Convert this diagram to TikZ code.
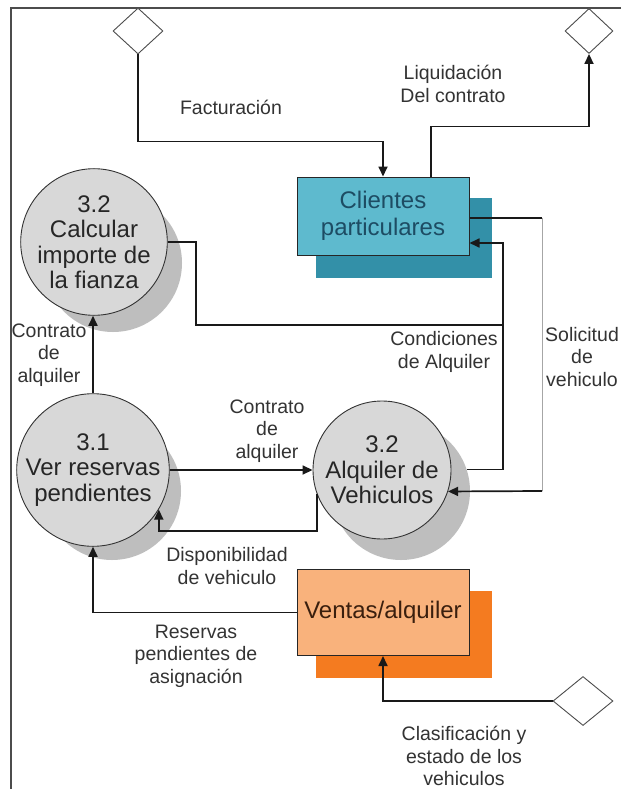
\documentclass[tikz,border=0pt]{standalone}
\usepackage{fontspec}
\setmainfont{Liberation Sans}
\usetikzlibrary{shapes.geometric,arrows.meta,calc}
\definecolor{circfill}{HTML}{D8D8D8}
\definecolor{circshadow}{HTML}{BEBEBE}
\definecolor{clfill}{HTML}{5EBACE}
\definecolor{clshadow}{HTML}{3390A8}
\definecolor{cltext}{HTML}{1D4C63}
\definecolor{vtfill}{HTML}{F9B27C}
\definecolor{vtshadow}{HTML}{F47B20}
\definecolor{vttext}{HTML}{3A1F0E}
\definecolor{lbltext}{HTML}{333333}
\begin{document}
\begin{tikzpicture}[x=1pt,y=-1pt,
  proc/.style={circle,draw=black!80,line width=0.9pt,fill=circfill,minimum size=138pt,inner sep=0pt,align=center,text=black!85,font=\fontsize{24}{25.5}\selectfont},
  procshadow/.style={circle,fill=circshadow,minimum size=138pt,inner sep=0pt},
  store/.style={rectangle,draw=black!85,line width=1pt,minimum width=172pt,align=center,inner sep=0pt,font=\fontsize{24}{27}\selectfont},
  storeshadow/.style={rectangle,minimum width=176pt,inner sep=0pt},
  lbl/.style={align=center,text=lbltext,font=\fontsize{19.5}{22.5}\selectfont,inner sep=0pt},
  flow/.style={line width=1.7pt,draw=black!90},
  arr/.style={flow,-{Triangle[length=10pt,width=9pt]}},
  ext/.style={diamond,draw=black!70,line width=0.9pt,fill=white,inner sep=0pt}
]
\useasboundingbox (0,0) rectangle (621,789);
\clip (0,0) rectangle (621,789);
\fill[white] (0,0) rectangle (621,789);
\draw[draw=black!70,line width=1.2pt] (621,8) -- (11,8) -- (11,789);

% shadows
\node[procshadow] (ccs) at (113,263) {};
\node[procshadow] (vrs) at (112,491) {};
\node[procshadow] (alqs) at (401,491) {};
\node[storeshadow,fill=clshadow,minimum height=80pt] (cls) at (404,238) {};
\node[storeshadow,fill=vtshadow,minimum height=87pt] (vts) at (404,634.5) {};

% processes
\node[proc] (cc) at (94,242) {3.2\\Calcular\\importe de\\la fianza};
\node[proc] (vr) at (93,470) {3.1\\Ver reservas\\pendientes};
\node[proc] (alq) at (382,470) {3.2\\Alquiler de\\Vehiculos};

% stores
\node[store,fill=clfill,text=cltext,minimum height=78pt] (cl) at (383,216) {Clientes\\particulares};
\node[store,fill=vtfill,text=vttext,minimum height=86pt] (vt) at (383,612.5) {Ventas/alquiler};

% externals
\node[ext,minimum width=50pt,minimum height=46pt] (d1) at (138,31) {};
\node[ext,minimum width=48pt,minimum height=45pt] (d2) at (589,31) {};
\node[ext,minimum width=60pt,minimum height=49pt] (d3) at (583,701) {};

% connectors
\draw[arr] (d1.south) -- ++(0,87) -| (cl.north);
\draw[arr] ([xshift=48pt]cl.north) -- ++(0,-50) -| (d2.south);
\coordinate (j1) at (503,325);
\coordinate (s1) at (542,218);
\coordinate (s2) at (542,491);
\draw[flow] (cc.east) -| (196,325) -- (j1);
\draw[arr] (alqs.18) -| (j1) |- ([yshift=-27pt]cl.east);
\draw[flow] ([yshift=-2pt]cl.east) -- (s1);
\draw[draw=black!35,line width=0.8pt] (s1) -- (s2);
\draw[arr] (s2) -- (alq.-18);
\draw[arr] (vr.north) -- (vr.north |- cc.south);
\draw[arr] (vr.east) -- (alq.west);
\draw[arr] (alq.200) -- ++(0,37.4) -| (vr.-31);
\draw[arr] (vt.west) -| (vr.south);
\draw[arr] (d3.west) -| (vt.south);

% labels
\node[lbl] (lfact) at (231,107) {Facturación};
\node[lbl] (lliq) at (453,84) {Liquidación\\Del contrato};
\node[lbl] (lcon1) at (49,355) {Contrato\\de\\alquiler};
\node[lbl] (lcon2) at (267,431) {Contrato\\de\\alquiler};
\node[lbl] (lcond) at (444,352) {Condiciones\\de Alquiler};
\node[lbl] (lsol) at (582,357) {Solicitud\\de\\vehiculo};
\node[lbl] (ldisp) at (227,566) {Disponibilidad\\de vehiculo};
\node[lbl] (lres) at (196,656) {Reservas\\pendientes de\\asignación};
\node[lbl] (lclas) at (464,756) {Clasificación y\\estado de los\\vehiculos};
\end{tikzpicture}
\end{document}
